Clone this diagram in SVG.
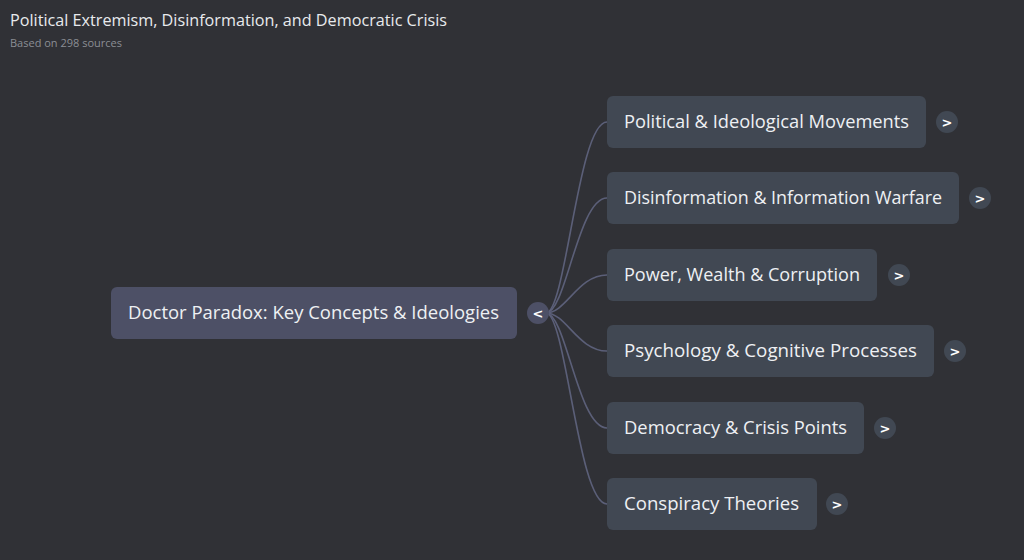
<svg xmlns="http://www.w3.org/2000/svg" width="1024" height="560" viewBox="0 0 1024 560">
<style>
.bg{fill:#303136}
.title{font-family:"Open Sans","Liberation Sans",sans-serif;font-size:17px;fill:#e8eaed}
.sub{font-family:"Open Sans","Liberation Sans",sans-serif;font-size:11px;fill:#8b8e94}
.child{fill:#414853}
.root{fill:#4d5066}
.lbl{font-family:"Open Sans","Liberation Sans",sans-serif;font-size:19px;fill:#eef0f3}
.btn{fill:#414853}
.rbtn{fill:#4d5066}
.chev{font-family:"DejaVu Sans",sans-serif;font-size:13px;font-weight:bold;fill:#ffffff;text-anchor:middle}
.edge{fill:none;stroke:#5b5f78;stroke-width:1.6}
</style>
<rect class="bg" x="0" y="0" width="1024" height="560"/>
<text class="title" x="10" y="26" textLength="437" lengthAdjust="spacingAndGlyphs">Political Extremism, Disinformation, and Democratic Crisis</text>
<text class="sub" x="10" y="47" textLength="112" lengthAdjust="spacingAndGlyphs">Based on 298 sources</text>
<g id="connectors">
<path class="edge" d="M546 313 C566 313 578 122 607 122"/>
<path class="edge" d="M546 313 C566 313 578 198 607 198"/>
<path class="edge" d="M546 313 C566 313 578 275 607 275"/>
<path class="edge" d="M546 313 C566 313 578 351 607 351"/>
<path class="edge" d="M546 313 C566 313 578 428 607 428"/>
<path class="edge" d="M546 313 C566 313 578 504 607 504"/>
</g>
<g id="root">
<rect class="root" x="111" y="287" width="406" height="52" rx="6"/>
<text class="lbl" x="128" y="318.5" textLength="371" lengthAdjust="spacingAndGlyphs">Doctor Paradox: Key Concepts &amp; Ideologies</text>
<circle class="rbtn" cx="538" cy="313" r="11"/>
<text class="chev" x="538" y="318">&lt;</text>
</g>
<g id="n1">
<rect class="child" x="607" y="96" width="319" height="52" rx="6"/>
<text class="lbl" x="624" y="127.5" textLength="285" lengthAdjust="spacingAndGlyphs">Political &amp; Ideological Movements</text>
<circle class="btn" cx="947" cy="122" r="11"/>
<text class="chev" x="947" y="127">&gt;</text>
</g>
<g id="n2">
<rect class="child" x="607" y="172" width="352" height="52" rx="6"/>
<text class="lbl" x="624" y="203.5" textLength="318" lengthAdjust="spacingAndGlyphs">Disinformation &amp; Information Warfare</text>
<circle class="btn" cx="980" cy="198" r="11"/>
<text class="chev" x="980" y="203">&gt;</text>
</g>
<g id="n3">
<rect class="child" x="607" y="249" width="270" height="52" rx="6"/>
<text class="lbl" x="624" y="280.5" textLength="236" lengthAdjust="spacingAndGlyphs">Power, Wealth &amp; Corruption</text>
<circle class="btn" cx="899" cy="275" r="11"/>
<text class="chev" x="899" y="280">&gt;</text>
</g>
<g id="n4">
<rect class="child" x="607" y="325" width="327" height="52" rx="6"/>
<text class="lbl" x="624" y="356.5" textLength="293" lengthAdjust="spacingAndGlyphs">Psychology &amp; Cognitive Processes</text>
<circle class="btn" cx="955" cy="351" r="11"/>
<text class="chev" x="955" y="356">&gt;</text>
</g>
<g id="n5">
<rect class="child" x="607" y="402" width="257" height="52" rx="6"/>
<text class="lbl" x="624" y="433.5" textLength="223" lengthAdjust="spacingAndGlyphs">Democracy &amp; Crisis Points</text>
<circle class="btn" cx="885" cy="428" r="11"/>
<text class="chev" x="885" y="433">&gt;</text>
</g>
<g id="n6">
<rect class="child" x="607" y="478" width="210" height="52" rx="6"/>
<text class="lbl" x="624" y="509.5" textLength="175" lengthAdjust="spacingAndGlyphs">Conspiracy Theories</text>
<circle class="btn" cx="837" cy="504" r="11"/>
<text class="chev" x="837" y="509">&gt;</text>
</g>
</svg>
